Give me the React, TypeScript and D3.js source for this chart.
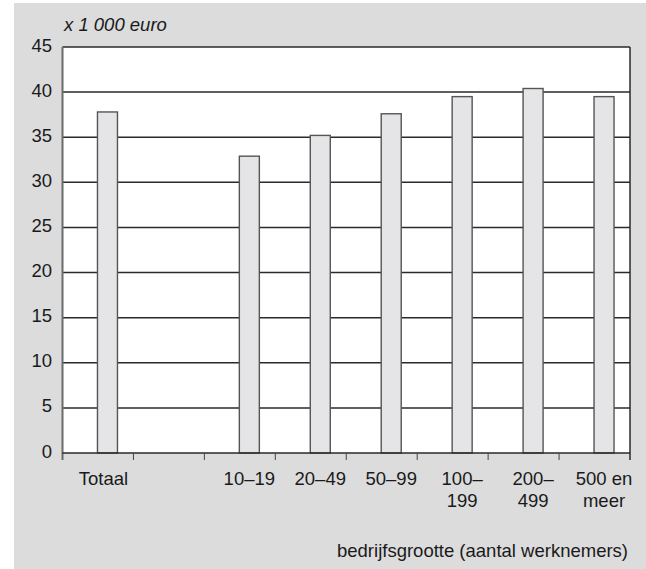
import * as d3 from "d3";
import { useEffect, useRef } from "react";

const categories = ["Totaal", "", "10–19", "20–49", "50–99", "100–199", "200–499", "500 en meer"];
const labelLines = [["Totaal"], [], ["10–19"], ["20–49"], ["50–99"], ["100–", "199"], ["200–", "499"], ["500 en", "meer"]];
const values = [37.8, null, 32.9, 35.2, 37.6, 39.5, 40.4, 39.5];
const yTicks = [0, 5, 10, 15, 20, 25, 30, 35, 40, 45];
const unitLabel = "x 1 000 euro";
const xTitle = "bedrijfsgrootte (aantal werknemers)";

const W = 646;
const H = 569;

const App = () => {
  const svgRef = useRef(null);

  useEffect(() => {
    document.body.style.margin = "0";
    const margin = { top: 47, left: 62.5, right: 16, bottom: 115 };
    const svg = d3.select(svgRef.current).attr("width", W).attr("height", H);
    svg.selectAll("*").remove();
    const font = "'Liberation Sans', Arial, sans-serif";
    const fs = "18.5px";

    // background
    svg.append("rect").attr("x", 14).attr("y", 3).attr("width", W - 14).attr("height", H - 3).attr("fill", "#dcdcdd");

    const x = d3
      .scaleBand()
      .domain(categories.map((c, i) => String(i)))
      .range([margin.left, W - margin.right])
      .padding(0);
    const y = d3.scaleLinear().domain([0, 45]).range([H - margin.bottom - 1, margin.top]);

    // plot area
    svg
      .append("rect")
      .attr("x", margin.left)
      .attr("y", y(45))
      .attr("width", W - margin.right - margin.left)
      .attr("height", y(0) - y(45))
      .attr("fill", "#fff");

    // gridlines
    svg
      .selectAll("grid")
      .data(yTicks.filter((d) => d > 0))
      .enter()
      .append("line")
      .attr("x1", margin.left)
      .attr("x2", W - margin.right)
      .attr("y1", (d) => y(d))
      .attr("y2", (d) => y(d))
      .attr("stroke", "#2a2a2a")
      .attr("stroke-width", 1.5);

    // right + left borders
    svg
      .append("line")
      .attr("x1", W - margin.right)
      .attr("x2", W - margin.right)
      .attr("y1", y(45))
      .attr("y2", y(0) + 7)
      .attr("stroke", "#2a2a2a")
      .attr("stroke-width", 1.5);
    svg
      .append("line")
      .attr("x1", margin.left)
      .attr("x2", margin.left)
      .attr("y1", y(45))
      .attr("y2", y(0) + 7)
      .attr("stroke", "#6a6a6a")
      .attr("stroke-width", 2);

    // bars (shifted right of band centre, as in the original)
    const bw = x.bandwidth();
    const barW = 20;
    const barX = (i) => x(String(i)) + bw / 2 + 9.5 - barW / 2;
    svg
      .selectAll("bar")
      .data(values.map((v, i) => ({ v, i })).filter((d) => d.v !== null))
      .enter()
      .append("rect")
      .attr("x", (d) => barX(d.i))
      .attr("y", (d) => y(d.v))
      .attr("width", barW)
      .attr("height", (d) => y(0) - y(d.v))
      .attr("fill", "#e5e5e7")
      .attr("stroke", "#555")
      .attr("stroke-width", 1.4);

    // x axis
    svg
      .append("line")
      .attr("x1", margin.left)
      .attr("x2", W - margin.right)
      .attr("y1", y(0))
      .attr("y2", y(0))
      .attr("stroke", "#2a2a2a")
      .attr("stroke-width", 1.5);
    svg
      .selectAll("xtick")
      .data(categories.map((c, i) => i).slice(1))
      .enter()
      .append("line")
      .attr("x1", (i) => x(String(i)))
      .attr("x2", (i) => x(String(i)))
      .attr("y1", y(0))
      .attr("y2", y(0) + 7)
      .attr("stroke", "#444")
      .attr("stroke-width", 1);

    // x labels
    labelLines.forEach((lines, i) => {
      lines.forEach((t, j) => {
        svg
          .append("text")
          .attr("x", barX(i) + barW / 2 - (i === 0 ? 4 : 0))
          .attr("y", y(0) + 32 + j * 22)
          .attr("text-anchor", "middle")
          .attr("font-family", font)
          .attr("font-size", fs)
          .attr("fill", "#1a1a1a")
          .text(t);
      });
    });

    // y labels
    svg
      .selectAll("ylabel")
      .data(yTicks)
      .enter()
      .append("text")
      .attr("x", 52)
      .attr("y", (d) => y(d) + 4.5)
      .attr("text-anchor", "end")
      .attr("font-family", font)
      .attr("font-size", fs)
      .attr("fill", "#1a1a1a")
      .text((d) => d);

    svg
      .append("text")
      .attr("x", 64)
      .attr("y", 31)
      .attr("font-family", font)
      .attr("font-style", "italic")
      .attr("font-size", fs)
      .attr("fill", "#1a1a1a")
      .text(unitLabel);

    svg
      .append("text")
      .attr("x", 628)
      .attr("y", 557)
      .attr("text-anchor", "end")
      .attr("font-family", font)
      .attr("font-size", fs)
      .attr("fill", "#1a1a1a")
      .text(xTitle);
  }, []);

  return <svg ref={svgRef} style={{ display: "block" }}></svg>;
};

export default App;
